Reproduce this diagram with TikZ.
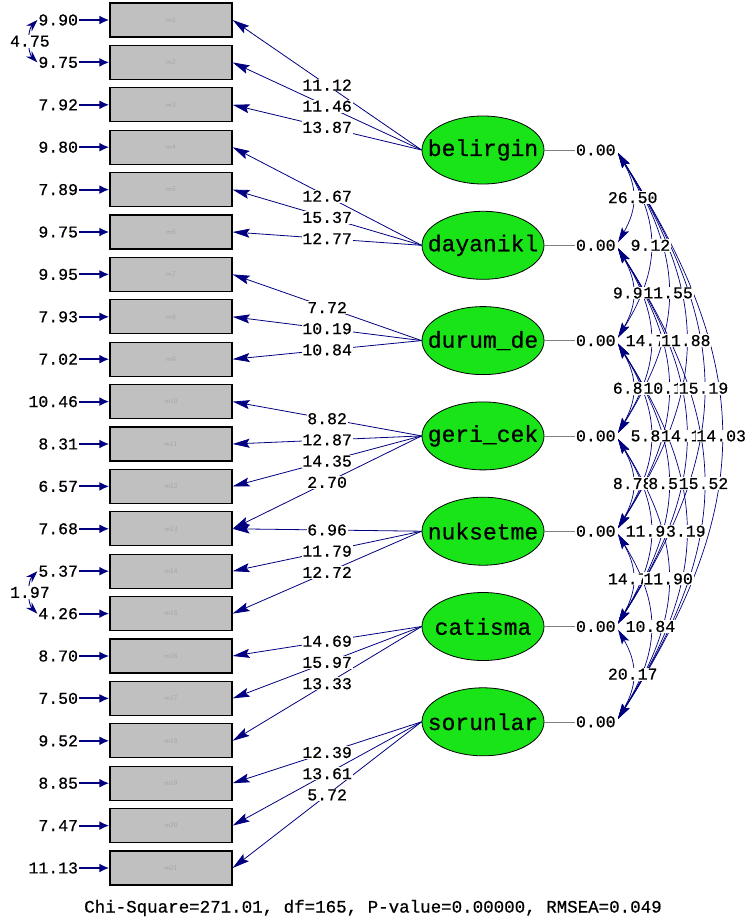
\documentclass[tikz,border=0pt]{standalone}
\usepackage{fontspec}
\setmainfont{Liberation Mono}[FakeBold=0.6]
\usetikzlibrary{arrows.meta,shapes.geometric}
\definecolor{navyb}{RGB}{0,0,128}
\definecolor{boxgray}{RGB}{192,192,192}
\definecolor{lblgray}{RGB}{165,165,165}
\definecolor{latgreen}{RGB}{24,228,24}
\begin{document}
\begin{tikzpicture}[x=1pt,y=-1pt,
 obs/.style={draw=black, line width=1.3pt, fill=boxgray, minimum width=122pt, minimum height=34pt, inner sep=0pt, text=lblgray, font=\fontsize{7}{8}\selectfont\sffamily},
 lat/.style={ellipse, draw=black, line width=0.8pt, fill=latgreen, minimum width=122pt, minimum height=68pt, inner sep=0pt},
 lattext/.style={font=\fontsize{23}{24}\selectfont, inner sep=0pt},
 num/.style={font=\fontsize{16.5}{18}\selectfont, inner sep=0.8pt},
 numw/.style={num, fill=white},
 load/.style={navyb, line width=0.8pt, -{Stealth[length=17pt,width=9pt,inset=3pt]}},
 err/.style={navyb, line width=2pt, -{Latex[length=10pt,width=9pt]}},
 ecov/.style={navyb, line width=0.9pt, {Stealth[length=12pt,width=8pt]}-{Stealth[length=12pt,width=8pt]}},
 cov/.style={navyb, line width=0.7pt, {Stealth[length=15pt,width=8pt,inset=3pt]}-{Stealth[length=15pt,width=8pt,inset=3pt]}},
 varl/.style={gray, line width=0.6pt}
]
\useasboundingbox[fill=white] (0,0) rectangle (746,924);

% observed variables and error variances
\foreach \i/\ev in {1/9.90,2/9.75,3/7.92,4/9.80,5/7.89,6/9.75,7/9.95,8/7.93,9/7.02,10/10.46,11/8.31,12/6.57,13/7.68,14/5.37,15/4.26,16/8.70,17/7.50,18/9.52,19/8.85,20/7.47,21/11.13}{
  \pgfmathsetmacro\yy{20+42.4*(\i-1)}
  \node[obs] (m\i) at (171,\yy) {m\i};
  \node[num, anchor=east] (e\i) at (79,\yy) {\ev};
  \draw[err] (e\i.east) -- (m\i.west);
}

% latent variables
\foreach \k/\nm in {1/belirgin,2/dayanikl,3/durum\_de,4/geri\_cek,5/nuksetme,6/catisma,7/sorunlar}{
  \pgfmathsetmacro\yy{150+95.3*(\k-1)}
  \node[lat] (L\k) at (483,\yy) {};
  \node[lattext] (T\k) at (L\k) {\nm};
  \node[num, anchor=west] (V\k) at (575,\yy) {0.00};
  \coordinate (cu\k) at (618,\yy-3);
  \coordinate (cd\k) at (618,\yy+3);
  \draw[varl] (L\k.east) -- (V\k.west);
}

% loadings
\foreach \l/\m/\v in {1/1/11.12,1/2/11.46,1/3/13.87,2/4/12.67,2/5/15.37,2/6/12.77,3/7/7.72,3/8/10.19,3/9/10.84,4/10/8.82,4/11/12.87,4/12/14.35,4/13/2.70,5/13/6.96,5/14/11.79,5/15/12.72,6/16/14.69,6/17/15.97,6/18/13.33,7/19/12.39,7/20/13.61,7/21/5.72}{
  \draw[load] (L\l.west) -- (m\m.east);
}
\foreach \l/\m/\v in {1/1/11.12,1/2/11.46,1/3/13.87,2/4/12.67,2/5/15.37,2/6/12.77,3/7/7.72,3/8/10.19,3/9/10.84,4/10/8.82,4/11/12.87,4/12/14.35,4/13/2.70,5/13/6.96,5/14/11.79,5/15/12.72,6/16/14.69,6/17/15.97,6/18/13.33,7/19/12.39,7/20/13.61,7/21/5.72}{
  \path (L\l.west) -- (m\m.east) node[numw, pos=0.5] {\v};
}

% error covariances
\draw[ecov] (e1.west) .. controls +(-10,10) and +(-10,-10) .. (e2.west);
\path (e1.west) .. controls +(-10,10) and +(-10,-10) .. (e2.west) node[numw, pos=0.5] {4.75};
\draw[ecov] (e14.west) .. controls +(-10,10) and +(-10,-10) .. (e15.west);
\path (e14.west) .. controls +(-10,10) and +(-10,-10) .. (e15.west) node[numw, pos=0.5] {1.97};

% latent covariances
\def\covlist{1/2/26.50,2/3/9.91,3/4/6.81,4/5/8.78,5/6/14.72,6/7/20.17,1/3/9.12,2/4/14.71,3/5/5.81,4/6/11.93,5/7/10.84,1/4/11.55,2/5/10.15,3/6/8.51,4/7/11.90,1/5/11.88,2/6/14.14,3/7/3.19,1/6/15.19,2/7/15.52,1/7/14.03}
\foreach \i/\j/\v in \covlist {
  \pgfmathsetmacro\cc{23.6*(\j-\i)-4}
  \pgfmathsetmacro\kk{0.38*(95.3*(\j-\i)-6)}
  \draw[cov] (cd\i) .. controls +(\cc,\kk) and +(\cc,-\kk) .. (cu\j);
}
\foreach \i/\j/\v in \covlist {
  \pgfmathsetmacro\cc{23.6*(\j-\i)-4}
  \pgfmathsetmacro\kk{0.38*(95.3*(\j-\i)-6)}
  \path (cd\i) .. controls +(\cc,\kk) and +(\cc,-\kk) .. (cu\j) node[numw, pos=0.5] {\v};
}

% fit statistics
\node[font=\fontsize{17.5}{19}\selectfont, inner sep=0pt] (fitstat) at (373,908) {Chi-Square=271.01, df=165, P-value=0.00000, RMSEA=0.049};
\end{tikzpicture}
\end{document}
